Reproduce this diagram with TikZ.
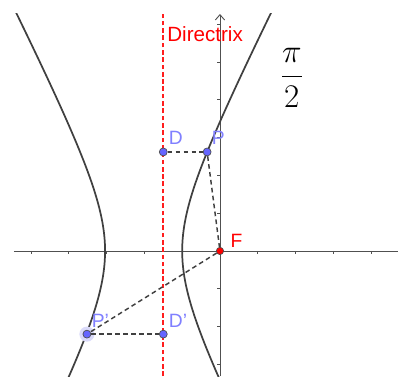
\documentclass[tikz,border=0pt]{standalone}
\usepackage{amsmath}
\usepackage{fontspec}
\setsansfont{Liberation Sans}
\usepackage{tikz}
\usetikzlibrary{arrows.meta, positioning}

\definecolor{ptblue}{RGB}{102,102,255}
\definecolor{lblblue}{RGB}{128,128,255}
\definecolor{halo}{RGB}{218,218,250}
\definecolor{axisgray}{RGB}{80,80,80}
\definecolor{dirred}{RGB}{255,30,30}

\tikzset{
    pt/.style={circle, draw=black!70, fill=ptblue, inner sep=0pt, minimum size=6pt, line width=0.5pt},
    ptlabel/.style={font=\sffamily\fontsize{14.5}{16}\selectfont, text=lblblue, inner sep=0pt},
    seg/.style={draw=black!75, line width=1.1pt, dash pattern=on 3.5pt off 2.5pt},
    branch/.style={draw=black!75, line width=1.3pt},
    dirline/.style={draw=dirred, line width=1.4pt, dash pattern=on 3.5pt off 2pt},
}

\begin{document}
\begin{tikzpicture}

    \useasboundingbox (-5.82,-3.31) rectangle (4.71,6.64);

    % Axes with ticks
    \draw[axisgray, line width=0.7pt] (-5.45,0) -- (4.71,0);
    \draw[axisgray, line width=0.7pt, -{Straight Barb[length=4pt, width=7pt]}] (0,-3.31) -- (0,6.27);
    \foreach \x in {-5,-4,-3,-2,-1,1,2,3,4}
        \draw[axisgray, line width=0.6pt] (\x,0) -- (\x,-0.07);
    \foreach \y in {-3,-2,-1,1,2,3,4,5,6}
        \draw[axisgray, line width=0.6pt] (0,\y) -- (-0.07,\y);

    % Hyperbola (both branches)
    \begin{scope}
        \clip (-5.45,-3.31) rectangle (4.71,6.27);
        \draw[branch] plot[domain=-1.35:1.9, samples=80, smooth] ({-2.02+1.02*cosh(\x)},{2*sinh(\x)});
        \draw[branch] plot[domain=-1.35:1.9, samples=80, smooth] ({-2.02-1.02*cosh(\x)},{2*sinh(\x)});
    \end{scope}

    % Directrix
    \coordinate (dirtop) at (-1.5,6.27);
    \coordinate (dirbot) at (-1.5,-3.31);
    \draw[dirline] (dirbot) -- (dirtop);
    \node[font=\sffamily\fontsize{15.5}{18}\selectfont, text=red, inner sep=0pt, anchor=base west] (dirlbl) at (-1.40,5.54) {Directrix};

    % Angle
    \node[font=\fontsize{23}{28}\selectfont, inner sep=0pt] (angle) at (1.90,4.58) {$\dfrac{\pi}{2}$};

    % Points
    \fill[halo] (-3.52,-2.20) circle (0.2);
    \node[circle, draw=black!70, fill=red, inner sep=0pt, minimum size=5.5pt, line width=0.5pt] (F) at (0,0) {};
    \node[pt] (P) at (-0.34,2.62) {};
    \node[pt] (D) at (-1.5,2.62) {};
    \node[pt] (Pp) at (-3.52,-2.20) {};
    \node[pt] (Dp) at (-1.5,-2.20) {};

    % Dashed segments
    \draw[seg] (D) -- (P);
    \draw[seg] (P) -- (F);
    \draw[seg] (F) -- (Pp);
    \draw[seg] (Pp) -- (Dp);

    % Labels
    \node[ptlabel, above right=0.11cm and 0.06cm of D] (Dlbl) {D};
    \node[ptlabel, above right=0.11cm and 0.04cm of P] (Plbl) {P};
    \node[ptlabel, above right=0.09cm and 0.04cm of Pp] (Pplbl) {P'};
    \node[ptlabel, above right=0.09cm and 0.06cm of Dp] (Dplbl) {D'};
    \node[ptlabel, text=red, above right=0.02cm and 0.2cm of F] (Flbl) {F};

\end{tikzpicture}
\end{document}
